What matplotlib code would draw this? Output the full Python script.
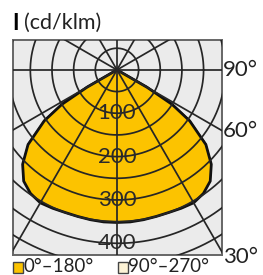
import numpy as np
import matplotlib.pyplot as plt
from matplotlib.patches import Polygon, Rectangle

# luminous intensity (cd/klm) vs angle from nadir (deg), symmetric halves
angles = [0, 5, 10, 15, 20, 25, 30, 35, 40, 45, 50, 55, 58, 60, 62]
c0_180 = [352, 352, 351, 350, 350, 352, 354, 348, 335, 308, 268, 205, 150, 80, 0]
c90_270 = [350, 350, 350, 349, 349, 351, 352, 346, 333, 306, 266, 203, 148, 78, 0]

ring_labels = [100, 200, 300, 400]
ring_steps = [50, 100, 150, 200, 250, 300, 350, 400, 450, 500]
angle_labels = ["90°", "60°", "30°"]
legend_labels = ["0°–180°", "90°–270°"]

W, H = 263, 275
fig = plt.figure(figsize=(W / 100, H / 100), dpi=100)
plt.rcParams['font.family'] = ['Lato', 'DejaVu Sans']

def fx(px):
    return px / W

def fy(py):
    return 1 - py / H

ax = fig.add_axes([fx(13), fy(255), (222 - 13) / W, (255 - 40) / H])
ax.set_xlim(-240, 242.5)
ax.set_ylim(-427, 69)
ax.set_facecolor('#ebebeb')
ax.set_xticks([])
ax.set_yticks([])
for s in ax.spines.values():
    s.set_color('#666666')
    s.set_linewidth(1.4)

def curve(vals):
    a = np.radians(np.array(angles))
    r = np.array(vals)
    # right half then mirrored left half
    xr, yr = r * np.sin(a), -r * np.cos(a)
    xs = np.concatenate([xr[::-1], -xr[1:]])
    ys = np.concatenate([yr[::-1], yr[1:]])
    return np.column_stack([xs, ys])

ax.add_patch(Polygon(curve(c90_270), closed=True, facecolor='#fdf3d6',
                     edgecolor='#222222', lw=1.8, joinstyle='round', zorder=1))
ax.add_patch(Polygon(curve(c0_180), closed=True, facecolor='#fcc300',
                     edgecolor='#111111', lw=2.0, joinstyle='round', zorder=2))

# polar grid
t = np.linspace(0, 2 * np.pi, 400)
for r in ring_steps:
    ax.plot(r * np.cos(t), r * np.sin(t), color='#262626', lw=1.25, zorder=3)
for deg in range(0, 180, 30):
    a = np.radians(deg)
    ax.plot([-600 * np.cos(a), 600 * np.cos(a)], [-600 * np.sin(a), 600 * np.sin(a)],
            color='#262626', lw=1.25, zorder=3)

for v in ring_labels:
    ax.text(0, -v, str(v), ha='center', va='center', fontsize=16,
            color='#2a2a2a', zorder=4)

# header and angle labels
fig.text(fx(12), fy(23), "I", fontsize=16, fontweight='bold', va='center', ha='left')
fig.text(fx(24), fy(23), "(cd/klm)", fontsize=15.5, va='center', ha='left', color='#222222')
for lab, py in zip(angle_labels, [70, 131, 257]):
    fig.text(fx(223), fy(py), lab, fontsize=16, va='center', ha='left', color='#222222')

# legend
fig.patches.append(Rectangle((fx(13), fy(273)), 10 / W, 11 / H, transform=fig.transFigure,
                             facecolor='#fcc300', edgecolor='#444444', lw=1))
fig.text(fx(23), fy(267), legend_labels[0], fontsize=13.5, va='center', ha='left', color='#222222')
fig.patches.append(Rectangle((fx(118), fy(273)), 10 / W, 11 / H, transform=fig.transFigure,
                             facecolor='#fdf3d6', edgecolor='#444444', lw=1))
fig.text(fx(128), fy(267), legend_labels[1], fontsize=13.5, va='center', ha='left', color='#222222')

fig.savefig('out.png', dpi=100)
